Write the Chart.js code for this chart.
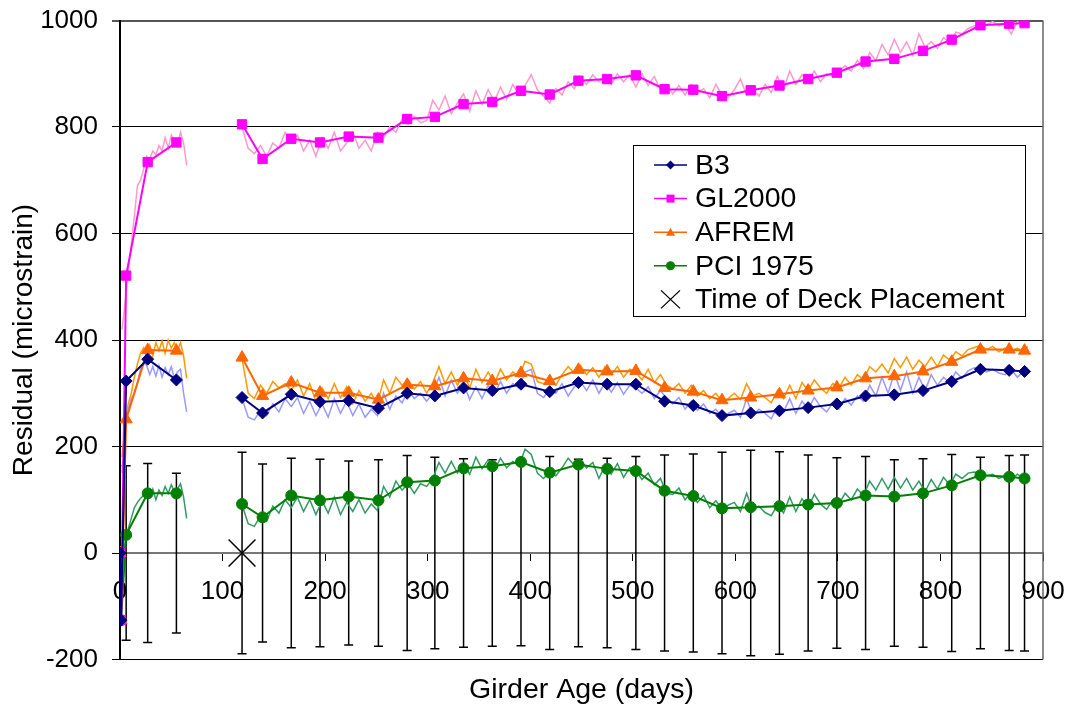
<!DOCTYPE html>
<html>
<head>
<meta charset="utf-8">
<script src="https://cdn.jsdelivr.net/npm/chart.js@4"></script>
<style>
  body { margin: 0; background: #fff; }
  #wrap { width: 1070px; height: 709px; }
</style>
</head>
<body>
<div id="wrap"><canvas id="myChart" width="1070" height="709"></canvas></div>
<script>
// model points (day 87 is only a break between the two pours)
const modelDays = [0, 1, 6, 27, 55, 87,
  119, 139, 167, 195, 223, 252, 280, 307, 335, 363, 391, 419, 447, 475, 503,
  531, 559, 587, 615, 643, 671, 699, 727, 755, 783, 811, 839, 867, 882]
const b3 = [0, -126, 323, 364, 325, null,
  292, 263, 298, 284, 286, 272, 300, 295, 310, 305, 317, 303, 320, 317, 317,
  285, 277, 258, 263, 267, 273, 280, 295, 297, 305, 322, 345, 343, 341]
const gl2000 = [0, -126, 521, 734, 771, null,
  805, 740, 778, 771, 782, 780, 815, 819, 843, 847, 868, 861, 887, 890, 897,
  871, 870, 858, 869, 878, 890, 902, 923, 928, 943, 964, 991, 994, 995]
const afrem = [0, -126, 251, 381, 380, null,
  367, 295, 320, 301, 301, 288, 316, 313, 328, 323, 338, 323, 344, 341, 342,
  310, 303, 287, 292, 298, 305, 311, 328, 332, 341, 359, 382, 382, 380]
const pci = [0, -126, 34, 112, 112, null,
  92, 67, 108, 99, 106, 99, 133, 136, 159, 163, 171, 151, 166, 158, 154,
  117, 107, 84, 86, 88, 91, 94, 108, 106, 112, 127, 146, 143, 140]

// error bars (drawn round zero)
const errDays = [6, 27, 55, 119, 139, 167, 195, 223, 252, 280, 307, 335, 363, 391, 419, 447,
  475, 503, 531, 559, 587, 615, 643, 671, 699, 727, 755, 783, 811, 839, 867, 882]
const errHalf = [164, 168, 150, 189, 167, 178, 176, 173, 175, 183, 180, 177, 175, 174, 181, 176,
  178, 181, 184, 186, 189, 193, 190, 184, 179, 181, 175, 177, 185, 180, 183, 184]

const deckDay = [119]
const deckValue = [0]

// daily curves (day 90 is the break)
const measDays = [2, 5, 8, 11, 14, 17, 20, 23, 26, 29, 32, 35, 38, 41, 44, 47, 50, 53, 56, 59, 62, 65,
  90,
  119, 125, 131, 137, 143, 149, 155, 161, 167, 173,
  179, 185, 191, 197, 203, 209, 215, 221, 227, 233,
  239, 245, 251, 257, 263, 269, 275, 281, 287, 293,
  299, 305, 311, 317, 323, 329, 335, 341, 347, 353,
  359, 365, 371, 377, 383, 389, 395, 401, 407, 413,
  419, 425, 431, 437, 443, 449, 455, 461, 467, 473,
  479, 485, 491, 497, 503, 509, 515, 521, 527, 533,
  539, 545, 551, 557, 563, 569, 575, 581, 587, 593,
  599, 605, 611, 617, 623, 629, 635, 641, 647, 653,
  659, 665, 671, 677, 683, 689, 695, 701, 707, 713,
  719, 725, 731, 737, 743, 749, 755, 761, 767, 773,
  779, 785, 791, 797, 803, 809, 815, 821, 827, 833,
  839, 845, 851, 857, 863, 869, 875, 881, 885]

const glDaily = [420, 470, 530, 580, 632, 690, 700, 720, 745, 740, 755, 748, 765, 755, 780, 760, 785, 770, 765, 790, 770, 728,
  null,
  800, 760, 750, 765, 745, 770, 760, 790, 770, 785,
  755, 775, 745, 780, 760, 790, 755, 770, 790, 760,
  775, 755, 790, 780, 800, 790, 815, 805, 820, 808,
  812, 850, 832, 858, 825, 845, 862, 830, 868, 842,
  870, 848, 875, 852, 880, 860, 878, 898, 870, 858,
  845, 872, 860, 885, 872, 893, 880, 898, 885, 895,
  880, 900, 885, 898, 875, 900, 878, 895, 870, 880,
  862, 878, 860, 880, 865, 872, 855, 880, 860, 855,
  870, 890, 860, 872, 858, 880, 865, 895, 870, 905,
  880, 898, 885, 905, 885, 900, 895, 905, 915, 905,
  925, 910, 940, 925, 955, 935, 965, 940, 960, 935,
  975, 950, 960, 948, 968, 958, 978, 975, 985, 990,
  995, 992, 998, 990, 995, 975, 998, 990, 995]

const b3Daily = [150, 230, 270, 290, 300, 320, 345, 358, 352, 335, 350, 332, 352, 330, 348, 335, 350, 328, 340, 345, 300, 265,
  null,
  290, 255, 250, 268, 258, 280, 265, 290, 275, 292,
  262, 285, 258, 280, 255, 290, 262, 285, 258, 280,
  255, 270, 258, 300, 270, 295, 282, 305, 290, 300,
  285, 300, 330, 295, 325, 300, 318, 288, 312, 290,
  315, 298, 322, 300, 318, 310, 340, 345, 300, 292,
  308, 300, 318, 295, 312, 322, 305, 325, 300, 320,
  302, 320, 298, 315, 310, 300, 312, 290, 305, 290,
  280, 292, 270, 285, 268, 280, 262, 270, 255, 262,
  268, 255, 290, 258, 270, 262, 252, 275, 265, 290,
  262, 285, 270, 292, 275, 265, 282, 270, 290, 278,
  295, 285, 315, 295, 330, 300, 338, 305, 340, 300,
  330, 305, 335, 315, 330, 320, 340, 328, 342, 348,
  345, 340, 345, 338, 335, 345, 330, 342, 348]

const afremDaily = [180, 240, 280, 300, 330, 355, 375, 385, 372, 390, 370, 395, 380, 398, 375, 400, 385, 395, 380, 395, 370, 328,
  null,
  365, 300, 290, 315, 300, 322, 310, 318, 305, 325,
  295, 318, 285, 310, 290, 318, 292, 312, 280, 305,
  285, 300, 280, 325, 300, 330, 315, 325, 308, 322,
  300, 320, 350, 318, 340, 315, 338, 310, 345, 320,
  340, 318, 345, 325, 340, 330, 360, 355, 322, 318,
  325, 315, 335, 350, 338, 352, 335, 348, 330, 350,
  335, 350, 330, 345, 340, 325, 345, 320, 335, 315,
  308, 318, 300, 315, 295, 305, 290, 300, 285, 290,
  300, 288, 318, 295, 300, 292, 282, 305, 290, 315,
  290, 320, 305, 325, 310, 300, 318, 310, 330, 315,
  335, 325, 350, 340, 355, 338, 365, 348, 368, 345,
  362, 350, 368, 350, 372, 362, 378, 370, 382, 386,
  390, 382, 388, 378, 385, 380, 385, 378, 388]

const pciDaily = [-40, 20, 45, 65, 85, 95, 103, 108, 115, 105, 120, 100, 118, 108, 125, 112, 128, 115, 120, 130, 105, 65,
  null,
  90, 55, 50, 70, 60, 88, 75, 100, 85, 105,
  78, 100, 72, 98, 75, 105, 72, 95, 78, 100,
  75, 92, 80, 125, 105, 135, 118, 130, 112, 130,
  125, 140, 170, 150, 172, 150, 168, 148, 180, 158,
  175, 155, 178, 160, 172, 165, 195, 185, 150, 140,
  152, 145, 160, 178, 165, 175, 160, 170, 140, 165,
  148, 168, 142, 160, 155, 138, 150, 128, 140, 112,
  110, 122, 100, 115, 95, 108, 85, 98, 82, 90,
  95, 78, 112, 80, 88, 76, 70, 90, 75, 105,
  78, 102, 85, 110, 92, 82, 100, 92, 112, 100,
  120, 108, 135, 118, 140, 120, 142, 122, 140, 118,
  135, 115, 138, 120, 142, 128, 148, 140, 150, 152,
  150, 145, 148, 140, 145, 138, 148, 140, 145]

const FONT = '"Liberation Sans", Arial, sans-serif'
Chart.defaults.font.family = FONT
Chart.defaults.color = '#000'

function pts(xs, ys) {
  return xs.map((d, i) => ({ x: d, y: ys[i] }))
}

// legend entries
const legendItems = [
  { text: 'B3', color: '#000080', style: 'diamond' },
  { text: 'GL2000', color: '#ff00ff', style: 'square' },
  { text: 'AFREM', color: '#ff6600', style: 'triangle' },
  { text: 'PCI 1975', color: '#008000', style: 'circle' },
  { text: 'Time of Deck Placement', color: '#000', style: 'cross' }
]

function marker(ctx, style, x, y, s) {
  ctx.beginPath()
  if (style == 'diamond') {
    ctx.moveTo(x, y - s); ctx.lineTo(x + s, y); ctx.lineTo(x, y + s); ctx.lineTo(x - s, y); ctx.closePath(); ctx.fill()
  } else if (style == 'square') {
    ctx.rect(x - s, y - s, 2 * s, 2 * s); ctx.fill()
  } else if (style == 'triangle') {
    ctx.moveTo(x, y - s); ctx.lineTo(x + s, y + s * 0.8); ctx.lineTo(x - s, y + s * 0.8); ctx.closePath(); ctx.fill()
  } else if (style == 'circle') {
    ctx.arc(x, y, s, 0, Math.PI * 2); ctx.fill()
  }
}

const extras = {
  id: 'extras',
  beforeDatasetsDraw(chart) {
    const ctx = chart.ctx
    const xs = chart.scales.x, ys = chart.scales.y
    ctx.save()
    ctx.strokeStyle = '#000'
    ctx.lineWidth = 1.5
    for (let i = 0; i < errDays.length; i++) {
      const px = xs.getPixelForValue(errDays[i])
      const top = ys.getPixelForValue(errHalf[i])
      const bot = ys.getPixelForValue(-errHalf[i])
      ctx.beginPath()
      ctx.moveTo(px, top); ctx.lineTo(px, bot)
      ctx.moveTo(px - 4.5, top); ctx.lineTo(px + 4.5, top)
      ctx.moveTo(px - 4.5, bot); ctx.lineTo(px + 4.5, bot)
      ctx.stroke()
    }
    // plot area right edge
    const a = chart.chartArea
    ctx.strokeStyle = '#666'
    ctx.beginPath()
    ctx.moveTo(a.right, a.top); ctx.lineTo(a.right, a.bottom)
    ctx.stroke()
    ctx.restore()
  },
  afterDraw(chart) {
    const ctx = chart.ctx
    ctx.save()
    ctx.fillStyle = '#fff'
    ctx.fillRect(633, 145, 392, 171)
    ctx.strokeStyle = '#000'
    ctx.lineWidth = 1
    ctx.strokeRect(633.5, 145.5, 392, 171)
    ctx.font = '28.5px ' + FONT
    ctx.textBaseline = 'middle'
    legendItems.forEach((it, i) => {
      const y = 165 + i * 33.6
      ctx.strokeStyle = it.color
      ctx.fillStyle = it.color
      if (it.style == 'cross') {
        ctx.lineWidth = 1.3
        ctx.beginPath()
        ctx.moveTo(661, y - 9); ctx.lineTo(680, y + 9)
        ctx.moveTo(680, y - 9); ctx.lineTo(661, y + 9)
        ctx.stroke()
      } else {
        ctx.lineWidth = 1.5
        ctx.beginPath()
        ctx.moveTo(654, y); ctx.lineTo(687, y)
        ctx.stroke()
        marker(ctx, it.style, 670.5, y, it.style == 'square' ? 4 : 4.5)
      }
      ctx.fillStyle = '#000'
      ctx.fillText(it.text, 695, y + 1)
    })
    ctx.restore()
  }
}

function modelSet(label, ys, color, style, r) {
  return {
    label: label,
    data: pts(modelDays, ys),
    borderColor: color,
    backgroundColor: color,
    borderWidth: 2,
    pointStyle: style,
    pointRadius: r,
    pointBorderWidth: 1,
    pointBackgroundColor: color,
    pointBorderColor: color
  }
}

function dailySet(ys, color) {
  return {
    data: pts(measDays, ys),
    borderColor: color,
    borderWidth: 1.5,
    pointRadius: 0
  }
}

var ctx = document.getElementById('myChart').getContext('2d');
var chart = new Chart(ctx, {
  type: 'line',
  data: {
    datasets: [
      {
        label: 'Time of Deck Placement',
        data: pts(deckDay, deckValue),
        showLine: false,
        pointStyle: 'crossRot',
        pointRadius: 19,
        pointBorderWidth: 1.5,
        pointBorderColor: '#000',
        borderColor: '#000'
      },
      modelSet('B3', b3, '#000080', 'rectRot', 6),
      modelSet('GL2000', gl2000, '#ff00ff', 'rect', 6.6),
      modelSet('AFREM', afrem, '#ff6600', 'triangle', 7),
      modelSet('PCI 1975', pci, '#008000', 'circle', 5.5),
      dailySet(b3Daily, '#9999ff'),
      dailySet(glDaily, '#ff99cc'),
      dailySet(afremDaily, '#ff9900'),
      dailySet(pciDaily, '#339966')
    ]
  },
  options: {
    responsive: false,
    animation: false,
    devicePixelRatio: 1,
    spanGaps: false,
    layout: { padding: { left: 0, right: 27, top: 19, bottom: 0 } },
    plugins: { legend: { display: false }, tooltip: { enabled: false } },
    scales: {
      x: {
        type: 'linear',
        position: { y: 0 },
        min: 0, max: 900,
        ticks: { stepSize: 100, font: { size: 26 }, color: '#000', padding: 16 },
        grid: { drawOnChartArea: false, drawTicks: true, tickLength: 7, color: '#000' },
        border: { display: true, color: '#777', width: 2 },
        afterFit: s => { s.paddingLeft = 0; s.paddingRight = 0 }
      },
      x2: {
        type: 'linear',
        axis: 'x',
        position: 'bottom',
        min: 0, max: 900,
        ticks: { display: false },
        grid: { display: false },
        border: { display: false },
        title: { display: true, text: 'Girder Age (days)', font: { size: 28.5 }, color: '#000', padding: { top: 0, bottom: 2 } },
        afterFit: s => { s.height = 49.5; s.paddingLeft = 0; s.paddingRight = 0 }
      },
      y: {
        min: -200, max: 1000,
        ticks: { stepSize: 200, font: { size: 26 }, color: '#000', padding: 14, callback: v => String(v) },
        grid: {
          color: c => c.tick && c.tick.value == 1000 ? '#555' : '#000',
          lineWidth: c => c.tick && c.tick.value == 1000 ? 2 : 1,
          tickLength: 8
        },
        border: { color: '#000', width: 2 },
        title: { display: true, text: 'Residual (microstrain)', font: { size: 28 }, color: '#000', padding: { top: 7, bottom: 0 } },
        afterFit: s => { s.width = 120; s.paddingTop = 0; s.paddingBottom = 0 }
      }
    }
  },
  plugins: [extras]
});
</script>
</body>
</html>
